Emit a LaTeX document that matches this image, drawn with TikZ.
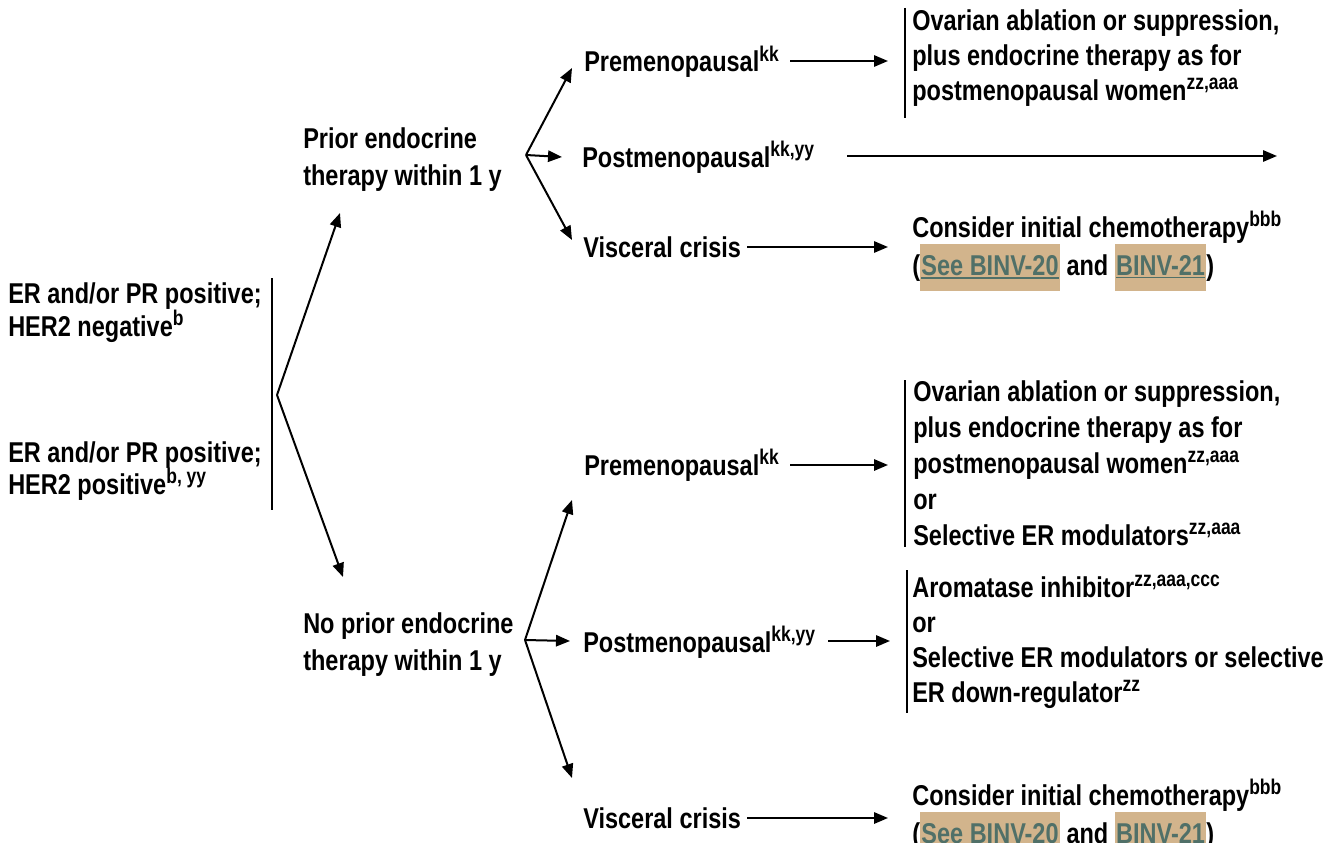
\documentclass[tikz,border=0pt]{standalone}
\usepackage{fontspec}
\setmainfont{Liberation Sans}[FakeStretch=0.82]
\usetikzlibrary{arrows.meta}

\definecolor{linkbg}{RGB}{210,180,140}
\definecolor{linkfg}{RGB}{80,112,104}

% footnote markers
\newcommand\sps[1]{\raisebox{0.36em}{\fontsize{16}{16}\selectfont #1}}
% underlined cross-reference on a tan ground
\newcommand\linkul[1]{\leavevmode\vtop{\hbox{#1}\kern1.2pt\hrule height1.4pt}}
\newcommand\linkhl[1]{{\setlength\fboxsep{1pt}\colorbox{linkbg}{\rule[-11pt]{0pt}{33pt}\color{linkfg}\linkul{#1}}}}

\begin{document}
\begin{tikzpicture}[x=0.75pt,y=-0.75pt,
  txt/.style={inner sep=0pt, anchor=base west, align=left,
    font=\fontsize{21.5}{27}\selectfont\bfseries},
  lsp/.style={font=\fontsize{21.5}{#1}\selectfont\bfseries},
  arr/.style={-{Triangle[length=10.5pt,width=8.5pt]}, line width=1.5pt},
  brk/.style={line width=1.5pt}]

\clip (0,0) rectangle (1341,842);

% ---- left: receptor status (anchored at the last baseline) ----
\node[txt,lsp=24.5pt] (er1) at (8,336) {ER and/or PR positive;\\HER2 negative\sps{b}};
\node[txt,lsp=24pt] (er2) at (8,494) {ER and/or PR positive;\\HER2 positive\sps{b, yy}};
\coordinate (barT) at (272,278);
\coordinate (barB) at (272,510);
\draw[brk] (barT) -- (barB);

% ---- prior endocrine therapy ----
\node[txt,lsp=27.75pt] (prior) at (303,185) {Prior endocrine\\therapy within 1 y};
\node[txt,lsp=27.75pt] (noprior) at (303,670) {No prior endocrine\\therapy within 1 y};

\coordinate (f0) at (277,395);
\coordinate (f0a) at (340,213);
\coordinate (f0b) at (343,577);
\draw[arr] (f0) -- (f0a);
\draw[arr] (f0) -- (f0b);

% upper branch
\node[txt] (pre1) at (584,72) {Premenopausal\sps{kk}};
\node[txt] (post1) at (582,167) {Postmenopausal\sps{kk,yy}};
\node[txt] (visc1) at (583,257) {Visceral crisis};

\coordinate (f1) at (526,155);
\coordinate (f1a) at (572,68);
\coordinate (f1b) at (562,157);
\coordinate (f1c) at (572,240);
\draw[arr] (f1) -- (f1a);
\draw[arr] (f1) -- (f1b);
\draw[arr] (f1) -- (f1c);

\node[txt,lsp=26.25pt] (ova1) at (912,100) {Ovarian ablation or suppression,\\plus endocrine therapy as for\\postmenopausal women\sps{zz,aaa}};
\coordinate (b1T) at (905,8);
\coordinate (b1B) at (905,118);
\draw[brk] (b1T) -- (b1B);

\node[txt] (chemo1) at (912,275) {Consider initial chemotherapy\sps{bbb}\\(\linkhl{See BINV-20} and \linkhl{BINV-21})};

\coordinate (h1s) at (790,61);  \coordinate (h1e) at (888,61);
\coordinate (h2s) at (847,156); \coordinate (h2e) at (1277,156);
\coordinate (h3s) at (747,247); \coordinate (h3e) at (888,247);
\draw[arr] (h1s) -- (h1e);
\draw[arr] (h2s) -- (h2e);
\draw[arr] (h3s) -- (h3e);

% lower branch
\node[txt] (pre2) at (584,475) {Premenopausal\sps{kk}};
\node[txt] (post2) at (583,652) {Postmenopausal\sps{kk,yy}};
\node[txt] (visc2) at (583,828) {Visceral crisis};

\coordinate (f2) at (525,640);
\coordinate (f2a) at (572,500);
\coordinate (f2b) at (570,641);
\coordinate (f2c) at (572,778);
\draw[arr] (f2) -- (f2a);
\draw[arr] (f2) -- (f2b);
\draw[arr] (f2) -- (f2c);

\node[txt] (ova2) at (913,545) {Ovarian ablation or suppression,\\plus endocrine therapy as for\\postmenopausal women\sps{zz,aaa}\\or\\Selective ER modulators\sps{zz,aaa}};
\coordinate (b2T) at (905,380);
\coordinate (b2B) at (905,547);
\draw[brk] (b2T) -- (b2B);

\node[txt,lsp=26.25pt] (ai) at (912,702) {Aromatase inhibitor\sps{zz,aaa,ccc}\\or\\Selective ER modulators or selective\\ER down-regulator\sps{zz}};
\coordinate (b3T) at (907,570);
\coordinate (b3B) at (907,713);
\draw[brk] (b3T) -- (b3B);

\node[txt] (chemo2) at (912,843) {Consider initial chemotherapy\sps{bbb}\\(\linkhl{See BINV-20} and \linkhl{BINV-21})};

\coordinate (h4s) at (790,465); \coordinate (h4e) at (888,465);
\coordinate (h5s) at (828,641); \coordinate (h5e) at (890,641);
\coordinate (h6s) at (747,818); \coordinate (h6e) at (888,818);
\draw[arr] (h4s) -- (h4e);
\draw[arr] (h5s) -- (h5e);
\draw[arr] (h6s) -- (h6e);
\end{tikzpicture}
\end{document}
